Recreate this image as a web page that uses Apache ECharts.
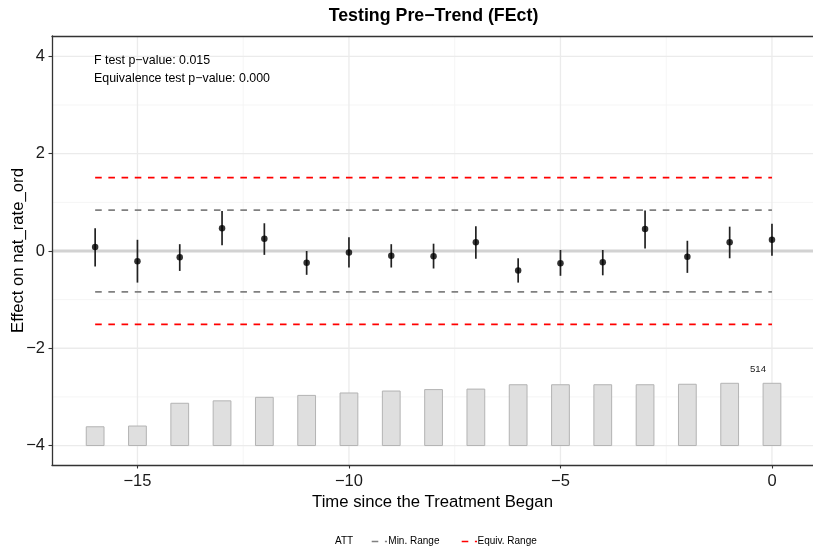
<!DOCTYPE html>
<html>
<head>
<meta charset="utf-8">
<title>Testing Pre-Trend (FEct)</title>
<script src="https://cdn.jsdelivr.net/npm/echarts@6/dist/echarts.min.js"></script>
<style>
  html, body { margin: 0; padding: 0; background: #ffffff; }
  #chart { width: 813px; height: 546px; }
</style>
</head>
<body>
<div id="chart"></div>
<script>
// Pre-treatment periods and the estimated effects with their confidence bounds
const periods   = [-16, -15, -14, -13, -12, -11, -10, -9, -8, -7, -6, -5, -4, -3, -2, -1, 0];
const estimates = [0.08, -0.21, -0.13, 0.47, 0.25, -0.24, -0.03, -0.10, -0.11, 0.18, -0.40, -0.25, -0.23, 0.45, -0.12, 0.18, 0.23];
const ciUpper   = [0.47, 0.23, 0.14, 0.82, 0.57, 0.00, 0.28, 0.14, 0.15, 0.51, -0.15, 0.02, 0.02, 0.83, 0.21, 0.50, 0.56];
const ciLower   = [-0.32, -0.65, -0.41, 0.12, -0.08, -0.49, -0.34, -0.34, -0.36, -0.16, -0.65, -0.51, -0.50, 0.05, -0.45, -0.15, -0.10];

// Number of treated observations in each period (drawn as bars at the bottom)
const counts = [155, 161, 349, 369, 398, 414, 434, 450, 462, 466, 502, 502, 502, 502, 506, 514, 514];

// Equivalence bounds
const minRange   = 0.84;
const equivRange = 1.51;

// Axis ticks and grid positions
const xTicks      = [-15, -10, -5, 0];
const xMinorGrid  = [-12.5, -7.5, -2.5];
const yTicks      = [-4, -2, 0, 2, 4];
const yMinorGrid  = [-3, -1, 1, 3];

// Annotation texts
const testLines = ['F test p\u2212value: 0.015', 'Equivalence test p\u2212value: 0.000'];

const FONT = '"Liberation Sans", Arial, Helvetica, sans-serif';
const minus = v => String(v).replace('-', '\u2212');

// bars sit on y = -4 and the tallest one is 1.28 units high
const BAR_BASE = -4;
const BAR_SPAN = 1.28;
const BAR_HALF = 0.21;
const maxCount = Math.max(...counts);
const maxIdx = counts.lastIndexOf(maxCount);

// grid line list: [value, 'x' | 'y', isMajor]
const gridRows = [
  ...yMinorGrid.map(v => [v, 'y', 0]),
  ...xMinorGrid.map(v => [v, 'x', 0]),
  ...yTicks.map(v => [v, 'y', 1]),
  ...xTicks.map(v => [v, 'x', 1])
];

const chart = echarts.init(document.getElementById('chart'), null, { renderer: 'canvas' });

const option = {
  animation: false,
  backgroundColor: '#ffffff',
  title: {
    text: 'Testing Pre\u2212Trend (FEct)',
    left: 428.5,
    top: 2,
    textAlign: 'center',
    textStyle: { fontFamily: FONT, fontSize: 17.8, fontWeight: 'bold', color: '#000' }
  },
  grid: { left: 52, right: 0, top: 36, bottom: 81, containLabel: false, outerBoundsMode: 'none' },
  xAxis: [{
    type: 'value',
    min: -17.02,
    max: 0.97,
    name: 'Time since the Treatment Began',
    nameLocation: 'middle',
    nameGap: 29,
    nameMoveOverlap: false,
    nameTextStyle: { fontFamily: FONT, fontSize: 16.7, color: '#000' },
    axisLine: { show: true, onZero: false, lineStyle: { color: '#333', width: 1.3 } },
    axisTick: { show: true, customValues: xTicks, length: 3.5, lineStyle: { color: '#333', width: 1.1 } },
    axisLabel: { customValues: xTicks, margin: 8, fontFamily: FONT, fontSize: 16.5, color: '#1a1a1a',
                 formatter: v => minus(v) },
    splitLine: { show: false }
  }, {
    type: 'value',
    position: 'top',
    min: -17.02,
    max: 0.97,
    axisLine: { show: true, onZero: false, lineStyle: { color: '#333', width: 1.3 } },
    axisTick: { show: false },
    axisLabel: { show: false },
    splitLine: { show: false }
  }],
  yAxis: {
    type: 'value',
    min: -4.40,
    max: 4.42,
    name: 'Effect on nat_rate_ord',
    nameLocation: 'middle',
    nameGap: 25,
    nameMoveOverlap: false,
    nameTextStyle: { fontFamily: FONT, fontSize: 16.7, color: '#000' },
    axisLine: { show: true, onZero: false, lineStyle: { color: '#333', width: 1.3 } },
    axisTick: { show: true, customValues: yTicks, length: 3.5, lineStyle: { color: '#333', width: 1.1 } },
    axisLabel: { customValues: yTicks, margin: 7, fontFamily: FONT, fontSize: 16.5, color: '#1a1a1a',
                 formatter: v => minus(v) },
    splitLine: { show: false }
  },
  series: [
    // background grid
    {
      type: 'custom',
      z: 0,
      silent: true,
      data: gridRows,
      renderItem: (params, api) => {
        const cs = params.coordSys;
        const v = api.value(0);
        const isX = gridRows[params.dataIndex][1] === 'x';
        const major = api.value(2) === 1;
        const style = { stroke: major ? '#ebebeb' : '#f4f4f4', lineWidth: major ? 1.3 : 0.9 };
        if (isX) {
          const px = api.coord([v, 0])[0];
          return { type: 'line', shape: { x1: px, y1: cs.y, x2: px, y2: cs.y + cs.height }, style };
        }
        const py = api.coord([0, v])[1];
        return { type: 'line', shape: { x1: cs.x, y1: py, x2: cs.x + cs.width, y2: py }, style };
      }
    },
    // zero line
    {
      type: 'custom',
      z: 0,
      silent: true,
      data: [[0]],
      renderItem: (params, api) => {
        const cs = params.coordSys;
        const py = api.coord([0, api.value(0)])[1];
        return { type: 'line', shape: { x1: cs.x, y1: py, x2: cs.x + cs.width, y2: py },
                 style: { stroke: '#d2d2d2', lineWidth: 3 } };
      }
    },
    // treated-observation counts
    {
      type: 'custom',
      z: 1,
      data: periods.map((p, i) => [p, counts[i]]),
      renderItem: (params, api) => {
        const x = api.value(0), c = api.value(1);
        const top = BAR_BASE + c / maxCount * BAR_SPAN;
        const p0 = api.coord([x - BAR_HALF, top]);
        const p1 = api.coord([x + BAR_HALF, BAR_BASE]);
        const children = [{
          type: 'rect',
          shape: { x: p0[0], y: p0[1], width: p1[0] - p0[0], height: p1[1] - p0[1] },
          style: { fill: '#dfdfdf', stroke: '#b3b3b3', lineWidth: 1 }
        }];
        if (params.dataIndex === maxIdx) {
          children.push({
            type: 'text',
            x: p0[0] + (p1[0] - p0[0]) / 2 - 14,
            y: p0[1] - 14,
            style: { text: String(c), fontFamily: FONT, fontSize: 9.6, fill: '#1a1a1a',
                     align: 'center', verticalAlign: 'middle' }
          });
        }
        return { type: 'group', children };
      }
    },
    // minimum range (grey) and equivalence range (red)
    {
      name: 'Min. Range', type: 'line', z: 2, symbol: 'none', silent: true,
      data: [[periods[0], minRange], [periods[periods.length - 1], minRange]],
      lineStyle: { color: '#808080', width: 1.7, type: [6.6, 6.6] }
    },
    {
      name: 'Min. Range', type: 'line', z: 2, symbol: 'none', silent: true,
      data: [[periods[0], -minRange], [periods[periods.length - 1], -minRange]],
      lineStyle: { color: '#808080', width: 1.7, type: [6.6, 6.6] }
    },
    {
      name: 'Equiv. Range', type: 'line', z: 2, symbol: 'none', silent: true,
      data: [[periods[0], equivRange], [periods[periods.length - 1], equivRange]],
      lineStyle: { color: '#ff0000', width: 1.7, type: [6.6, 6.6] }
    },
    {
      name: 'Equiv. Range', type: 'line', z: 2, symbol: 'none', silent: true,
      data: [[periods[0], -equivRange], [periods[periods.length - 1], -equivRange]],
      lineStyle: { color: '#ff0000', width: 1.7, type: [6.6, 6.6] }
    },
    // confidence intervals
    {
      type: 'custom',
      z: 3,
      data: periods.map((p, i) => [p, ciLower[i], ciUpper[i]]),
      renderItem: (params, api) => {
        const lo = api.coord([api.value(0), api.value(1)]);
        const hi = api.coord([api.value(0), api.value(2)]);
        return {
          type: 'line',
          shape: { x1: lo[0], y1: lo[1], x2: hi[0], y2: hi[1] },
          style: { stroke: '#222', lineWidth: 1.7 }
        };
      }
    },
    // point estimates
    {
      name: 'ATT',
      type: 'scatter',
      z: 4,
      symbol: 'circle',
      symbolSize: 6.5,
      itemStyle: { color: '#000' },
      data: periods.map((p, i) => [p, estimates[i]])
    }
  ],
  graphic: [
    {
      type: 'text', left: 94, top: 55, z: 100,
      style: { text: testLines[0], fontFamily: FONT, fontSize: 12.4, fill: '#000' }
    },
    {
      type: 'text', left: 94, top: 73, z: 100,
      style: { text: testLines[1], fontFamily: FONT, fontSize: 12.4, fill: '#000' }
    },
    // legend
    {
      type: 'text', left: 335, top: 536, z: 100,
      style: { text: 'ATT', fontFamily: FONT, fontSize: 10, fill: '#000' }
    },
    {
      type: 'line', z: 100, shape: { x1: 371.7, y1: 541.5, x2: 387, y2: 541.5 },
      style: { stroke: '#808080', lineWidth: 1.7, lineDash: [6.6, 6.6] }
    },
    {
      type: 'text', left: 388.3, top: 536, z: 100,
      style: { text: 'Min. Range', fontFamily: FONT, fontSize: 10, fill: '#000' }
    },
    {
      type: 'line', z: 100, shape: { x1: 461.7, y1: 541.5, x2: 477, y2: 541.5 },
      style: { stroke: '#ff0000', lineWidth: 1.7, lineDash: [6.6, 6.6] }
    },
    {
      type: 'text', left: 477.5, top: 536, z: 100,
      style: { text: 'Equiv. Range', fontFamily: FONT, fontSize: 10, fill: '#000' }
    }
  ]
};

chart.setOption(option);
</script>
</body>
</html>
